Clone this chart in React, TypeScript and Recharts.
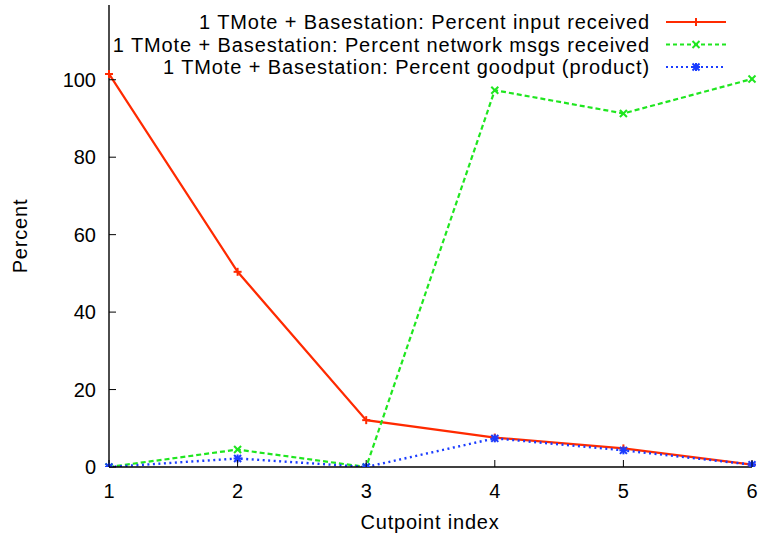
import { LineChart, Line, XAxis, YAxis } from 'recharts'

// values
const cutpoints = [1, 2, 3, 4, 5, 6]
const inputReceived = [101.5, 50.4, 12.1, 7.6, 4.8, 0.6]
const networkReceived = [0, 4.5, 0, 97.3, 91.3, 100.2]
const goodput = [0, 2.2, 0, 7.4, 4.3, 0.6]
const yTicks = [0, 20, 40, 60, 80, 100]

const seriesNames = [
  '1 TMote + Basestation: Percent input received',
  '1 TMote + Basestation: Percent network msgs received',
  '1 TMote + Basestation: Percent goodput (product)',
]

const RED = '#ff2a00'
const GREEN = '#1fe61f'
const BLUE = '#1a3cff'
const FONT = '"Liberation Sans", Arial, Helvetica, sans-serif'
const TICK = 7

const data = cutpoints.map((x, i) => ({
  x,
  input: inputReceived[i],
  network: networkReceived[i],
  goodput: goodput[i],
}))

type MarkKind = 'plus' | 'cross' | 'star'

function Mark({ cx, cy, kind, color }: { cx: number; cy: number; kind: MarkKind; color: string }) {
  const s = kind === 'cross' ? 3.5 : 4
  return (
    <g stroke={color} strokeWidth={2}>
      {kind !== 'cross' && (
        <>
          <line x1={cx - s} y1={cy} x2={cx + s} y2={cy} />
          <line x1={cx} y1={cy - s} x2={cx} y2={cy + s} />
        </>
      )}
      {kind !== 'plus' && (
        <>
          <line x1={cx - 3.5} y1={cy - 3.5} x2={cx + 3.5} y2={cy + 3.5} />
          <line x1={cx - 3.5} y1={cy + 3.5} x2={cx + 3.5} y2={cy - 3.5} />
        </>
      )}
    </g>
  )
}

const dotFor = (kind: MarkKind, color: string) => (props: any) => {
  const { cx, cy, index } = props
  if (cx == null || cy == null) return <g key={index} />
  return <Mark key={index} cx={cx} cy={cy} kind={kind} color={color} />
}

export default function App() {
  const legendRows: { name: string; color: string; dash?: string; kind: MarkKind }[] = [
    { name: seriesNames[0], color: RED, kind: 'plus' },
    { name: seriesNames[1], color: GREEN, dash: '4 3', kind: 'cross' },
    { name: seriesNames[2], color: BLUE, dash: '2 3', kind: 'star' },
  ]

  return (
    <div style={{ position: 'absolute', left: 0, top: 0, width: 761, height: 535, background: '#fff' }}>
      <LineChart width={761} height={535} data={data} margin={{ top: 5, right: 9, bottom: 0, left: 0 }}>
        <XAxis
          dataKey="x"
          type="number"
          domain={[1, 6]}
          ticks={cutpoints}
          interval={0}
          height={68}
          tickSize={0}
          tickMargin={0}
          tickLine={false}
          axisLine={{ stroke: '#000', strokeWidth: 1.4 }}
          tick={(p: any) => (
            <g key={p.index}>
              <line x1={p.x} y1={p.y} x2={p.x} y2={p.y - TICK} stroke="#000" strokeWidth={1} />
              <text x={p.x} y={p.y + 31} textAnchor="middle" fontSize={20} fontFamily={FONT} fill="#000">
                {p.payload.value}
              </text>
            </g>
          )}
        />
        <XAxis
          xAxisId="top"
          dataKey="x"
          type="number"
          orientation="top"
          domain={[1, 6]}
          ticks={cutpoints}
          interval={0}
          height={0}
          tickSize={0}
          tickMargin={0}
          tickLine={false}
          axisLine={{ stroke: '#000', strokeWidth: 1.4 }}
          tick={(p: any) => (
            <line key={p.index} x1={p.x} y1={p.y} x2={p.x} y2={p.y + TICK} stroke="#000" strokeWidth={1} />
          )}
        />
        <YAxis
          type="number"
          domain={[0, 119.3]}
          ticks={yTicks}
          interval={0}
          width={109}
          tickSize={0}
          tickMargin={0}
          tickLine={false}
          allowDataOverflow
          axisLine={{ stroke: '#000', strokeWidth: 1.4 }}
          tick={(p: any) => (
            <g key={p.index}>
              <line x1={p.x} y1={p.y} x2={p.x + TICK} y2={p.y} stroke="#000" strokeWidth={1} />
              <text x={p.x - 13} y={p.y + 7} textAnchor="end" fontSize={20} fontFamily={FONT} fill="#000">
                {p.payload.value}
              </text>
            </g>
          )}
        />
        <YAxis
          yAxisId="right"
          type="number"
          orientation="right"
          domain={[0, 119.3]}
          ticks={yTicks}
          interval={0}
          width={0}
          tickSize={0}
          tickMargin={0}
          tickLine={false}
          allowDataOverflow
          axisLine={{ stroke: '#000', strokeWidth: 1.4 }}
          tick={(p: any) => (
            <line key={p.index} x1={p.x} y1={p.y} x2={p.x - TICK} y2={p.y} stroke="#000" strokeWidth={1} />
          )}
        />
        <Line
          dataKey="input"
          type="linear"
          stroke={RED}
          strokeWidth={2.2}
          dot={dotFor('plus', RED)}
          activeDot={false}
          isAnimationActive={false}
        />
        <Line
          dataKey="network"
          type="linear"
          stroke={GREEN}
          strokeWidth={2.2}
          strokeDasharray="5 3"
          dot={dotFor('cross', GREEN)}
          activeDot={false}
          isAnimationActive={false}
        />
        <Line
          dataKey="goodput"
          type="linear"
          stroke={BLUE}
          strokeWidth={2.4}
          strokeDasharray="2 3.5"
          dot={dotFor('star', BLUE)}
          activeDot={false}
          isAnimationActive={false}
        />
      </LineChart>

      {/* legend and axis titles, gnuplot-style, drawn over the chart */}
      <svg
        width={761}
        height={535}
        style={{ position: 'absolute', left: 0, top: 0, pointerEvents: 'none' }}
        fontFamily={FONT}
      >
        {legendRows.map((r, i) => {
          const y = 22 + i * 22.5
          return (
            <g key={r.name}>
              <text x={650} y={y + 7} textAnchor="end" fontSize={20} letterSpacing={0.9} fill="#000">
                {r.name}
              </text>
              <line x1={666} y1={y} x2={726} y2={y} stroke={r.color} strokeWidth={2.2} strokeDasharray={r.dash} />
              <Mark cx={696} cy={y} kind={r.kind} color={r.color} />
            </g>
          )
        })}
        <text
          x={20}
          y={236}
          dy={7}
          transform="rotate(-90, 20, 236)"
          textAnchor="middle"
          fontSize={20}
          letterSpacing={0.8}
          fill="#000"
        >
          Percent
        </text>
        <text x={430} y={529} textAnchor="middle" fontSize={20} letterSpacing={0.8} fill="#000">
          Cutpoint index
        </text>
      </svg>
    </div>
  )
}
